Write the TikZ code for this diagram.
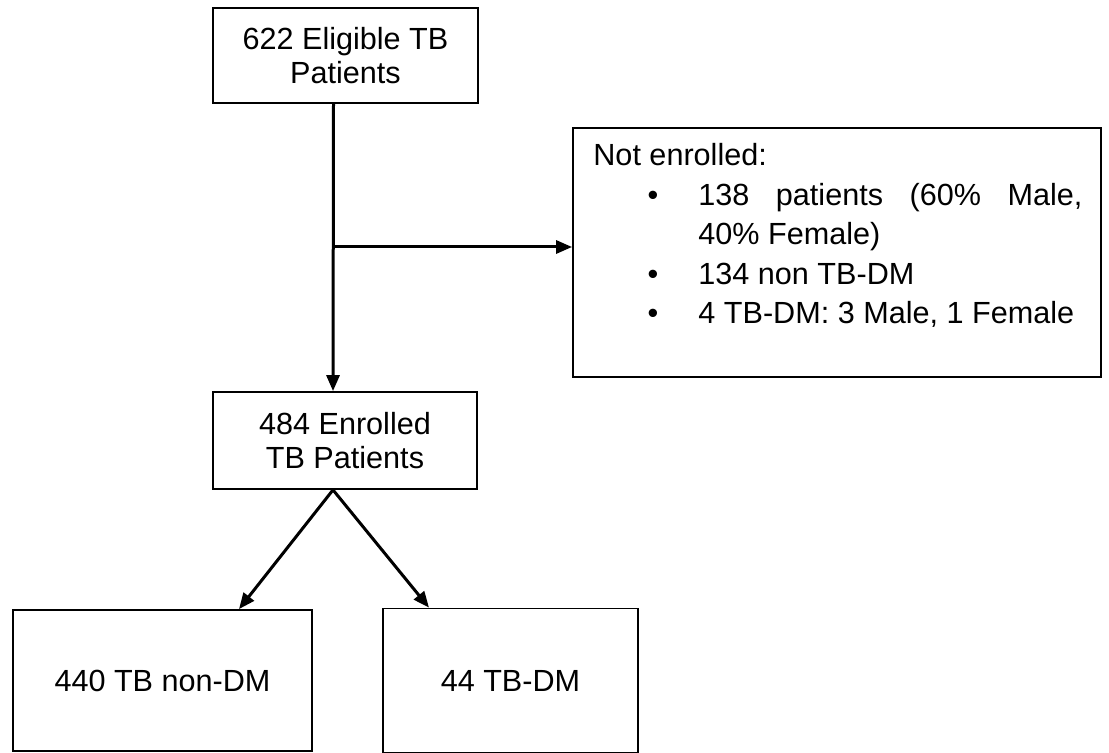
\documentclass[tikz,border=0pt]{standalone}
\usepackage{fontspec}
\setmainfont{Liberation Sans}
\usepackage{enumitem}
\usetikzlibrary{arrows.meta}

\begin{document}
\begin{tikzpicture}[x=.5pt,y=-.5pt,>={Triangle[length=8pt,width=6.5pt]},
    box/.style={draw,line width=.9pt,inner sep=0pt,align=center,
      font=\fontsize{15.3}{17}\selectfont},
    single/.style={text height=11pt,text depth=0pt},
    flow/.style={->,line width=1.5pt}]
  \useasboundingbox (0,0) rectangle (1109,753);

  % Boxes of the flow, placed at the pixel positions of the scan.
  \node[box,minimum width=132.5pt,minimum height=47.5pt] (elig) at (345.5,55.5)
    {622 Eligible TB\\Patients};
  \node[box,minimum width=132pt,minimum height=48.5pt] (enrol) at (345,440.5)
    {484 Enrolled\\TB Patients};
  \node[box,minimum width=264pt,minimum height=124.5pt] (notenr) at (837,252.5) {};
  \node[anchor=north west,inner sep=0pt,text width=244.5pt,align=justify,
      font=\fontsize{15.3}{19.75}\selectfont] (notenrtxt) at (593,143)
    {Not enrolled:
     \begin{itemize}[leftmargin=52.5pt,labelsep=20pt,topsep=0pt,partopsep=0pt,
         itemsep=0pt,parsep=0pt]
       \item 138 patients (60\% Male,\linebreak 40\% Female)
       \item 134 non TB-DM
       \item 4 TB-DM: 3 Male, 1 Female
     \end{itemize}};
  \node[box,single,minimum width=149.5pt,minimum height=70.5pt] (nondm) at (162.5,680.5)
    {440 TB non-DM};
  \node[box,single,minimum width=127.5pt,minimum height=72pt] (dm) at (510.5,680.5)
    {44 TB-DM};

  % Connectors
  \coordinate (branch) at (333,247);
  \draw[flow] ([xshift=-6pt]elig.south) -- ([xshift=-6pt]enrol.north);
  \draw[flow] (branch) -- (branch -| notenr.west);
  \draw[flow] ([xshift=-6pt]enrol.south) -- ([xshift=38.25pt]nondm.north);
  \draw[flow] ([xshift=-6pt]enrol.south) -- ([xshift=-40.75pt]dm.north);
\end{tikzpicture}
\end{document}
